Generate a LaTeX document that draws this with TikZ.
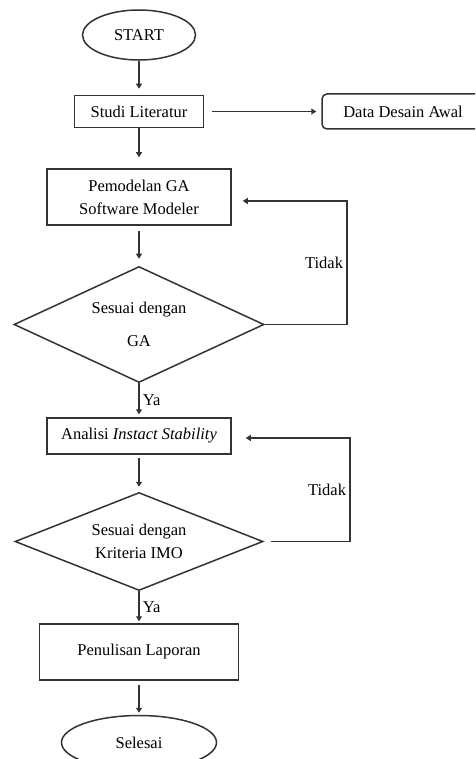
\documentclass[tikz,border=0pt]{standalone}
\usepackage{fontspec}
\setmainfont{Liberation Serif}
\usetikzlibrary{positioning,arrows.meta,shapes.geometric}

\begin{document}
\begin{tikzpicture}[
  x=1pt, y=1pt,
  font=\fontsize{16.5}{23}\selectfont,
  box/.style={draw=black!80, line width=1.5pt, align=center, inner sep=2pt},
  term/.style={draw=black!80, ellipse, line width=1.5pt, inner sep=0pt},
  cond/.style={draw=black!80, diamond, aspect=2.2, line width=1.5pt, align=center, inner sep=0pt},
  arr/.style={-{Triangle[length=5pt, width=6pt]}, draw=black!80, line width=1.5pt},
  lab/.style={inner sep=3pt}
]
\useasboundingbox (0,0) rectangle (475,-759);
\clip (0,0) rectangle (475,-759);
\node[term, minimum width=113pt, minimum height=50pt] (start) at (139,-35) {START};
\node[box, below=34pt of start, minimum width=129pt, minimum height=32pt] (studi) {Studi Literatur};
\node[box, rounded corners=5pt, right=117pt of studi, minimum width=162pt, minimum height=35pt] (data) {Data Desain Awal};
\node[box, below=40pt of studi, minimum width=184pt, minimum height=56pt] (pem) {Pemodelan GA\\Software Modeler};
\node[cond, below=40pt of pem, minimum width=250pt, minimum height=116pt] (ga) {Sesuai dengan\\[10pt]GA};
\node[box, below=34pt of ga, minimum width=184pt, minimum height=36pt] (ana) {Analisi \textit{Instact Stability}};
\node[cond, below=37pt of ana, minimum width=248pt, minimum height=98pt] (imo) {Sesuai dengan\\Kriteria IMO};
\node[box, below=32pt of imo, minimum width=199pt, minimum height=56pt] (lap) {Penulisan Laporan};
\node[term, below=34pt of lap, minimum width=155pt, minimum height=54pt] (selesai) {Selesai};
\draw[arr, shorten >=6pt] (start) -- (studi);
\draw[arr, shorten <=8pt, shorten >=5pt] (studi) -- (data);
\draw[arr, shorten >=11pt] (studi) -- (pem);
\draw[arr, shorten <=5pt, shorten >=7pt] (pem) -- (ga);
\draw[arr, shorten >=3pt] (ga) -- node[lab, right]{Ya} (ana);
\draw[arr, shorten <=3pt, shorten >=5pt] (ana) -- (imo);
\draw[arr, shorten >=2pt] (imo) -- node[lab, right]{Ya} (lap);
\draw[arr, shorten <=4pt, shorten >=2pt] (lap) -- (selesai);
\draw[arr] (ga.east) -- ++(82,0) |- node[lab, left, pos=0.25]{Tidak} ([xshift=11pt, yshift=-4pt]pem.east);
\draw[arr, shorten <=7pt] (imo.east) -- ++(86,0) |- node[lab, left, pos=0.25]{Tidak} ([xshift=14pt, yshift=-2pt]ana.east);
\end{tikzpicture}
\end{document}
